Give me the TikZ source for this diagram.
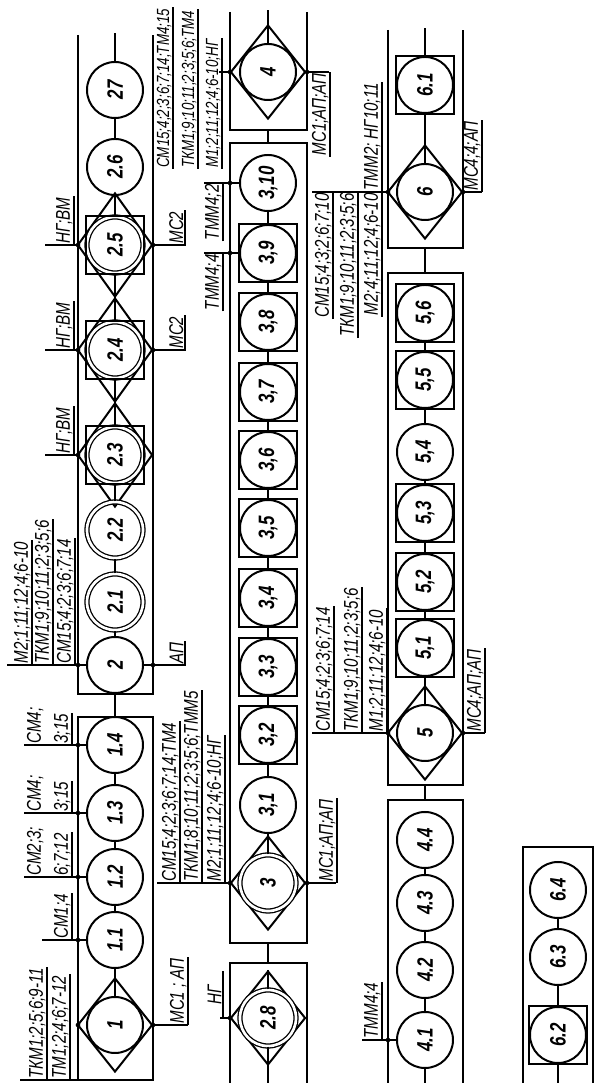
\documentclass[tikz,border=0pt]{standalone}
\usepackage{fontspec}
\setmainfont{Liberation Sans}
\newfontfamily\gost[FakeStretch=0.76]{Liberation Sans}
\usetikzlibrary{positioning,shapes.geometric}

\tikzset{
  opn/.style={circle, draw, line width=1.7pt, minimum size=16.8mm, inner sep=0pt,
              font=\gost\fontsize{19}{20}\selectfont\bfseries\itshape},
  dbl/.style={opn, double, double distance=0.8mm, line width=1.1pt},
  sqr/.style={draw, rectangle, line width=1.7pt, minimum size=17.4mm, inner sep=0pt},
  dia/.style={draw, diamond, line width=1.7pt, minimum width=28.2mm,
              minimum height=22.5mm, inner sep=0pt},
  wdia/.style={dia, minimum width=31.2mm},
  frame/.style={line width=1.6pt},
  link/.style={line width=1.4pt},
  dot/.style={circle, fill, inner sep=0pt, minimum size=1.4mm},
  txt/.style={font=\gost\fontsize{17}{18}\selectfont\itshape, inner xsep=1pt, inner ysep=1.2pt},
  lbl/.style={txt,
              append after command={(\tikzlastnode.south west)
                edge[line width=1.1pt] (\tikzlastnode.south east)}},
  small/.style={font=\gost\fontsize{15}{16}\selectfont\itshape}
}

\begin{document}
\begin{tikzpicture}[x=0.3mm, y=0.3mm, rotate=90, transform shape]
  \useasboundingbox (0,0) rectangle (1083,598);

  % frames
  \draw[frame] (3,445) rectangle (366,520);
  \draw[frame] (1048,520) -- (389,520) -- (389,445) -- (1048,445);
  \draw[frame] (0,368) -- (120,368) -- (120,291) -- (0,291);
  \draw[frame] (140,291) rectangle (940,368);
  \draw[frame] (1071,368) -- (953,368) -- (953,291) -- (1071,291);
  \draw[frame] (0,210) -- (283,210) -- (283,135) -- (0,135);
  \draw[frame] (298,135) rectangle (810,210);
  \draw[frame] (1053,210) -- (835,210) -- (835,135) -- (1053,135);
  \draw[frame] (0,75) -- (236,75) -- (236,5) -- (0,5);

  % diamonds
  \node[dia]  (d1)  at (58,483)   {};
  \node[wdia] (d23) at (628,483)  {};
  \node[wdia] (d24) at (733,483)  {};
  \node[wdia] (d25) at (838,483)  {};
  \node[dia]  (d28) at (65,330)   {};
  \node[dia]  (d3)  at (200,330)  {};
  \node[dia]  (d4)  at (1011,330) {};
  \node[dia]  (d5)  at (350,173)  {};
  \node[dia]  (d6)  at (891,173)  {};

  % row 1 and 2
  \node[opn] (c1) at (58,483) {1};
  \foreach \n/\x/\t in {11/143/{1.1},12/206/{1.2},13/270/{1.3},14/338/{1.4},
                        2/418/2,26/916/{2.6},27/993/{27}}
    \node[opn] (c\n) at (\x,483) {\t};
  \foreach \n/\x/\t in {21/481/{2.1},22/553/{2.2},23/628/{2.3},24/733/{2.4},25/838/{2.5}}
    \node[dbl] (c\n) at (\x,483) {\t};

  % row 3
  \node[dbl] (c28) at (65,330) {2.8};
  \node[dbl] (c3) at (200,330) {3};
  \foreach \n/\x/\t in {31/278/{3,1},32/348/{3,2},33/416/{3,3},34/485/{3,4},35/555/{3,5},
                        36/623/{3,6},37/691/{3,7},38/761/{3,8},39/830/{3,9},310/900/{3,10},
                        4/1011/4}
    \node[opn] (c\n) at (\x,330) {\t};

  % row 4, 5
  \foreach \n/\x/\t in {41/43/{4.1},42/113/{4.2},43/180/{4.3},44/243/{4.4},5/350/5,
                        51/435/{5,1},52/501/{5,2},53/570/{5,3},54/631/{5,4},55/703/{5,5},
                        56/770/{5,6},6/891/6,61/998/{6.1}}
    \node[opn] (c\n) at (\x,173) {\t};

  % row 6
  \foreach \n/\x/\t in {62/48/{6.2},63/126/{6.3},64/193/{6.4}}
    \node[opn] (c\n) at (\x,40) {\t};

  % squares
  \foreach \n in {23,24,25,32,33,34,35,36,37,38,39,51,52,53,55,56,61,62}
    \node[sqr] at (c\n) {};

  % chains
  \foreach \a/\b in {1/11,11/12,12/13,13/14,2/21,21/22,22/23,23/24,24/25,25/26,26/27,
                     3/31,31/32,32/33,33/34,34/35,35/36,36/37,37/38,38/39,39/310,
                     41/42,42/43,43/44,5/51,51/52,52/53,53/54,54/55,55/56,6/61,62/63,63/64}
    \draw[link] (c\a) -- (c\b);
  \draw[link] (c28) -- (d28.east);
  \coordinate (b1e) at (366,483);  \coordinate (b2w) at (389,483);
  \coordinate (b28e) at (120,330); \coordinate (b3w) at (140,330);
  \coordinate (b3e) at (940,330);  \coordinate (b4w) at (953,330);
  \coordinate (b4xe) at (283,173); \coordinate (b5w) at (298,173);
  \coordinate (b5e) at (810,173);  \coordinate (b6w) at (835,173);
  \draw[link] (b1e) -- (b2w);
  \draw[link] (b28e) -- (b3w);
  \draw[link] (b3e) -- (b4w);
  \draw[link] (b4xe) -- (b5w);
  \draw[link] (b5e) -- (b6w);
  \coordinate (o27) at (1050,483);
  \coordinate (o28) at (0,330);
  \coordinate (o4) at (1073,330);
  \coordinate (o41) at (0,173);
  \coordinate (o61) at (1055,173);
  \coordinate (o62) at (0,40);
  \draw[link] (c27) -- (o27);
  \draw[link] (c28) -- (o28);
  \draw[link] (c4) -- (o4);
  \draw[link] (c41) -- (o41);
  \draw[link] (c61) -- (o61);
  \draw[link] (c62) -- (o62);

  % tap dots
  \foreach \x in {58,143,206,270,338,418,628,733,838} \node[dot] at (\x,520) {};
  \foreach \x in {58,418,733,838} \node[dot] at (\x,445) {};
  \foreach \x in {65,200,830,900,1011} \node[dot] at (\x,368) {};
  \foreach \x in {200,1011} \node[dot] at (\x,291) {};
  \foreach \x in {43,350,891} \node[dot] at (\x,210) {};
  \foreach \x in {350,891} \node[dot] at (\x,135) {};

  % labels, row 1
  \coordinate (k1) at (3,520);
  \draw[link] (k1) -- ++(0,58);
  \node[lbl, anchor=south west] (t1a) at (3,528) {ТМ1;2;4;6;7-12};
  \node[lbl, anchor=south west] (t1b) at (3,551) {ТКМ1;2;5;6;9-11};
  \draw[link] (c11.north) -- ++(0,44);
  \node[lbl, anchor=south west] (t11) at (143,526) {СМ1;4};
  \foreach \n/\x/\a/\b in {12/206/{6;7;12}/{СМ2;3;},13/270/{3;15}/{СМ4;},14/338/{3;15}/{СМ4;}}{
    \draw[link] (c\n.north) -- ++(0,62);
    \node[lbl, anchor=south west] (t\n a) at (\x,526) {\a};
    \node[txt, anchor=south west] (t\n b) at (\x,553) {\b};
  }
  \draw[link] (d1.south) -- ++(0,-35);
  \node[lbl, anchor=south west] (b1) at (58,410) {МС1 ; АП};

  % labels, row 2
  \draw[link] (c2.north) -- ++(0,79);
  \node[lbl, anchor=south west] (t2a) at (418,523) {СМ15;4;2;3;6;7;14};
  \node[lbl, anchor=south west] (t2b) at (418,545) {ТКМ1;9;10;11;2;3;5;6};
  \node[lbl, anchor=south west] (t2c) at (418,566) {М2;1;11;12;4;6-10};
  \foreach \n/\x in {23/628,24/733,25/838}{
    \draw[link] (d\n.north) -- ++(0,31);
    \node[lbl, anchor=south west] (t\n) at (\x,524) {НГ;ВМ};
  }
  \draw[link] (c2.south) -- ++(0,-42);
  \node[lbl, anchor=south west] (b2) at (418,413) {АП};
  \foreach \n/\x in {24/733,25/838}{
    \draw[link] (d\n.south) -- ++(0,-33);
    \node[lbl, anchor=south west] (b\n) at (\x,413) {МС2};
  }

  % labels, row 3
  \draw[link] (d28.north) -- ++(0,9);
  \node[lbl, anchor=south west, minimum width=14mm] (t28) at (65,375) {НГ};
  \draw[link] (d3.north) -- ++(0,72);
  \node[lbl, anchor=south west] (t3a) at (200,373) {М2;1;11;12;4;6-10;НГ};
  \node[lbl, anchor=south west] (t3b) at (200,396) {ТКМ1;8;10;11;2;3;5;6;ТММ5};
  \node[lbl, anchor=south west] (t3c) at (200,418) {СМ15;4;2;3;6;7;14;ТМ4};
  \draw[link] (c39.north) -- ++(0,35);
  \node[lbl, anchor=south east] (t39) at (830,375) {ТММ4;4};
  \draw[link] (c310.north) -- ++(0,35);
  \node[lbl, anchor=south east] (t310) at (900,375) {ТММ4;2};
  \draw[link] (d4.north) -- ++(0,10);
  \node[lbl, small, anchor=south west] (t4a) at (914,376) {М1;2;11;12;4;6-10;НГ};
  \node[lbl, small, anchor=south west] (t4b) at (914,400) {ТКМ1;9;10;11;2;3;5;6;ТМ4};
  \node[lbl, small, anchor=south west] (t4c) at (914,425) {СМ15;4;2;3;6;7;14;ТМ4;15};
  \draw[link] (d3.south) -- ++(0,-30);
  \node[lbl, anchor=south west] (b3) at (200,261) {МС1;АП;АП};
  \draw[link] (d4.south) -- ++(0,-23);
  \node[lbl, anchor=south east] (b4) at (1011,268) {МС1;АП;АП};

  % labels, row 5
  \draw[link] (c41.north) -- ++(0,34);
  \node[lbl, anchor=south west] (t41) at (43,216) {ТММ4;4};
  \draw[link] (d5.north) -- ++(0,75);
  \node[lbl, anchor=south west] (t5a) at (350,211) {М1;2;11;12;4;6-10};
  \node[lbl, anchor=south west] (t5b) at (350,236) {ТКМ1;9;10;11;2;3;5;6};
  \node[lbl, anchor=south west] (t5c) at (350,264) {СМ15;4;2;3;6;7;14};
  \draw[link] (d6.north) -- ++(0,75);
  \node[lbl, anchor=south east] (t6a) at (891,216) {М2;4;11;12;4;6-10};
  \node[lbl, anchor=south east] (t6b) at (891,240) {ТКМ1;9;10;11;2;3;5;6};
  \node[lbl, anchor=south east] (t6c) at (891,265) {СМ15;4;3;2;6;7;10};
  \node[lbl, anchor=south west] (t6d) at (891,216) {ТММ2; НГ10;11};
  \draw[link] (d5.south) -- ++(0,-22);
  \node[lbl, anchor=south west] (b5) at (350,113) {МС4;АП;АП};
  \draw[link] (d6.south) -- ++(0,-19);
  \node[lbl, anchor=south west] (b6) at (891,116) {МС4;4;АП};
\end{tikzpicture}
\end{document}
